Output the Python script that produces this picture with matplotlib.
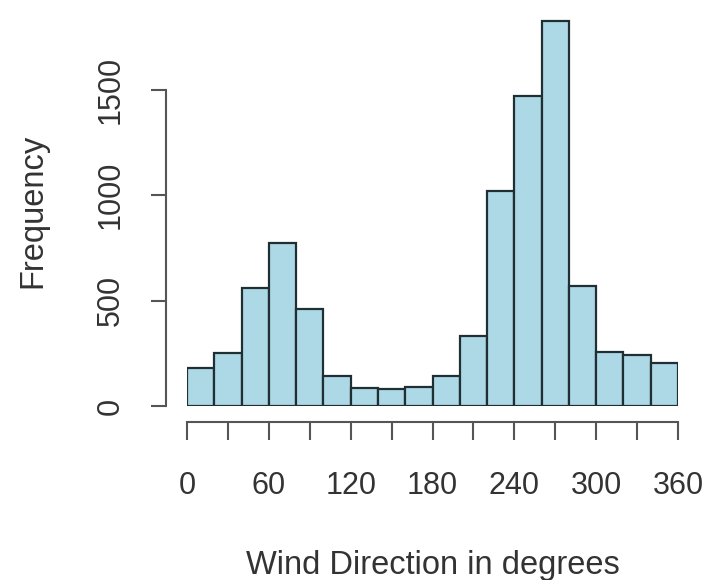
import numpy as np
import matplotlib.pyplot as plt

plt.rcParams['font.family'] = ['Liberation Sans', 'DejaVu Sans']

# histogram of wind direction, 20 degree bins
bin_edges = np.arange(0, 361, 20)
counts = [179, 253, 559, 775, 459, 142, 84, 80, 92, 142,
          332, 1020, 1471, 1824, 571, 255, 242, 203]
x_ticks = np.arange(0, 361, 30)
x_labels = [str(t) if t % 60 == 0 else '' for t in x_ticks]
y_ticks = [0, 500, 1000, 1500]

fig = plt.figure(figsize=(7.13, 5.8), dpi=100)
ax = fig.add_axes([187/713, 174/580, 491/713, 390/580])

ax.bar(bin_edges[:-1], counts, width=20, align='edge',
       color='#ADD8E6', edgecolor='#1f2f33', linewidth=1.6)

ax.set_xlim(0, 360)
ax.set_ylim(0, 1850)

axis_col = '#555555'
text_col = '#333333'
for s in ['top', 'right']:
    ax.spines[s].set_visible(False)
ax.spines['left'].set_position(('outward', 15))
ax.spines['bottom'].set_position(('outward', 11.5))
ax.spines['left'].set_bounds(0, 1500)
ax.spines['bottom'].set_bounds(0, 360)
ax.spines['left'].set_color(axis_col)
ax.spines['bottom'].set_color(axis_col)
ax.spines['left'].set_linewidth(1.5)
ax.spines['bottom'].set_linewidth(1.5)

ax.set_xticks(x_ticks)
ax.set_xticklabels(x_labels)
ax.set_yticks(y_ticks)
ax.set_yticklabels([str(v) for v in y_ticks], rotation=90, va='center')
ax.tick_params(axis='both', colors=axis_col, labelcolor=text_col,
               labelsize=22, width=1.5)
ax.tick_params(axis='y', length=11, pad=18.4)
ax.tick_params(axis='x', length=13, pad=22.5)

ax.set_xlabel('Wind Direction in degrees', fontsize=23.5, color=text_col, labelpad=35)
ax.set_ylabel('Frequency', fontsize=23.5, color=text_col, labelpad=33.6)

fig.savefig('out.png', dpi=100)
